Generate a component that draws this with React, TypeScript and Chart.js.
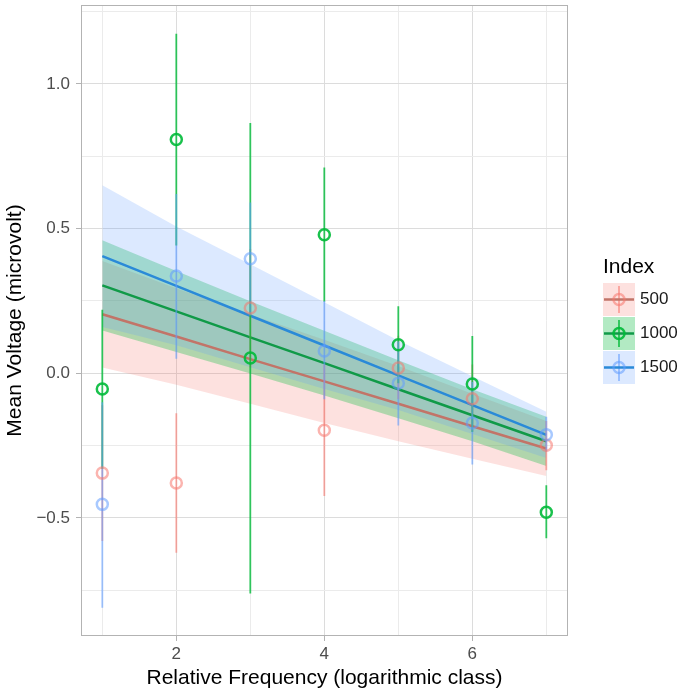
import React, { useEffect, useRef } from 'react';
import { Chart, registerables } from 'chart.js';

Chart.register(...registerables);

// ---- data ----
const xClasses = [1, 2, 3, 4, 5, 6, 7];
const seriesNames = ['500', '1000', '1500'];

const mean500 = [-0.345, -0.379, 0.226, -0.197, 0.018, -0.088, -0.249];
const low500 = [-0.58, -0.62, 0.02, -0.424, -0.09, -0.2, -0.335];
const high500 = [-0.11, -0.138, 0.43, 0.03, 0.13, 0.03, -0.165];

const mean1000 = [-0.054, 0.808, 0.053, 0.479, 0.099, -0.037, -0.48];
const low1000 = [-0.33, 0.442, -0.761, 0.247, -0.034, -0.203, -0.57];
const high1000 = [0.22, 1.174, 0.865, 0.711, 0.232, 0.129, -0.387];

const mean1500 = [-0.453, 0.336, 0.396, 0.077, -0.034, -0.172, -0.212];
const low1500 = [-0.81, 0.05, 0.2, -0.09, -0.18, -0.315, -0.27];
const high1500 = [-0.1, 0.62, 0.59, 0.25, 0.11, -0.03, -0.15];

const fit500 = [0.204, 0.127, 0.049, -0.028, -0.105, -0.183, -0.26];
const fit1000 = [0.304, 0.214, 0.124, 0.035, -0.055, -0.145, -0.235];
const fit1500 = [0.405, 0.302, 0.199, 0.096, -0.007, -0.11, -0.213];

const bandLo500 = [0.02, -0.04, -0.105, -0.172, -0.235, -0.295, -0.355];
const bandHi500 = [0.388, 0.294, 0.203, 0.116, 0.025, -0.071, -0.165];
const bandLo1000 = [0.148, 0.074, -0.001, -0.077, -0.155, -0.235, -0.32];
const bandHi1000 = [0.46, 0.354, 0.249, 0.147, 0.045, -0.055, -0.15];
const bandLo1500 = [0.16, 0.097, 0.021, -0.054, -0.127, -0.21, -0.293];
const bandHi1500 = [0.65, 0.507, 0.377, 0.246, 0.113, -0.01, -0.133];

const xGridValues = [1, 2, 3, 4, 5, 6, 7];
const xTickLabels = [2, 4, 6];
const yGridValues = [-0.75, -0.5, -0.25, 0, 0.25, 0.5, 0.75, 1, 1.25];
const yTickValues = [-0.5, 0, 0.5, 1];
const yTickLabels = ['\u22120.5', '0.0', '0.5', '1.0'];

const xTitle = 'Relative Frequency (logarithmic class)';
const yTitle = 'Mean Voltage (microvolt)';
const legendTitle = 'Index';

// ---- styles ----
const FONT = "'Liberation Sans', Arial, Helvetica, sans-serif";
const pointColors = ['rgba(248,118,109,0.55)', 'rgba(0,186,56,0.9)', 'rgba(97,156,255,0.55)'];
const barColors = ['rgba(248,118,109,0.6)', 'rgba(0,186,56,0.8)', 'rgba(97,156,255,0.6)'];
const lineColors = ['#C27468', '#109A48', '#2A8AD8'];
const bandColors = ['rgba(248,118,109,0.22)', 'rgba(0,186,56,0.3)', 'rgba(97,156,255,0.22)'];

const means = [mean500, mean1000, mean1500];
const lows = [low500, low1000, low1500];
const highs = [high500, high1000, high1500];
const fits = [fit500, fit1000, fit1500];
const bandLos = [bandLo500, bandLo1000, bandLo1500];
const bandHis = [bandHi500, bandHi1000, bandHi1500];

function buildDatasets() {
  const ds: any[] = [];
  for (let s = 0; s < 3; s++) {
    ds.push({
      data: xClasses.map((x, i) => ({ x, y: bandLos[s][i] })),
      borderWidth: 0,
      borderColor: 'transparent',
      pointRadius: 0,
      fill: false,
      order: 30 - s,
    });
    ds.push({
      data: xClasses.map((x, i) => ({ x, y: bandHis[s][i] })),
      borderWidth: 0,
      borderColor: 'transparent',
      backgroundColor: bandColors[s],
      pointRadius: 0,
      fill: '-1',
      order: 30 - s,
    });
  }
  for (let s = 0; s < 3; s++) {
    ds.push({
      data: xClasses.map((x, i) => ({ x, y: fits[s][i] })),
      borderColor: lineColors[s],
      borderWidth: 2.5,
      pointRadius: 0,
      fill: false,
      order: 20 - s,
    });
  }
  for (let s = 0; s < 3; s++) {
    const pts: any[] = [];
    xClasses.forEach((x, i) => {
      pts.push({ x, y: lows[s][i] });
      pts.push({ x, y: highs[s][i] });
      pts.push({ x, y: null });
    });
    ds.push({
      data: pts,
      borderColor: barColors[s],
      borderWidth: 1.8,
      pointRadius: 0,
      spanGaps: false,
      fill: false,
      order: 10 - s,
    });
  }
  for (let s = 0; s < 3; s++) {
    ds.push({
      data: xClasses.map((x, i) => ({ x, y: means[s][i] })),
      showLine: false,
      pointStyle: 'circle',
      pointRadius: 5.5,
      pointBorderWidth: 2.5,
      pointBackgroundColor: 'rgba(0,0,0,0)',
      pointBorderColor: pointColors[s],
      fill: false,
      order: 5 - s,
    });
  }
  return ds;
}

const decorPlugin = {
  id: 'decor',
  afterDraw(chart: any) {
    const { ctx, chartArea } = chart;
    ctx.save();
    // panel border
    ctx.strokeStyle = '#B3B3B3';
    ctx.lineWidth = 1;
    ctx.strokeRect(chartArea.left + 0.5, chartArea.top + 0.5, chartArea.right - chartArea.left - 1, chartArea.bottom - chartArea.top - 1);

    // axis titles
    ctx.fillStyle = '#000000';
    ctx.font = `21px ${FONT}`;
    ctx.textAlign = 'center';
    ctx.textBaseline = 'middle';
    ctx.fillText(xTitle, (chartArea.left + chartArea.right) / 2, 678);
    ctx.save();
    ctx.translate(15, (chartArea.top + chartArea.bottom) / 2);
    ctx.rotate(-Math.PI / 2);
    ctx.fillText(yTitle, 0, 0);
    ctx.restore();

    // legend
    const lx = 603;
    ctx.textAlign = 'left';
    ctx.textBaseline = 'alphabetic';
    ctx.font = `21px ${FONT}`;
    ctx.fillText(legendTitle, lx, 273);
    const kw = 32;
    const kh = 33;
    for (let s = 0; s < 3; s++) {
      const top = 283 + s * 34;
      const cx = lx + kw / 2;
      const cy = top + kh / 2;
      ctx.fillStyle = bandColors[s];
      ctx.fillRect(lx, top, kw, kh);
      ctx.strokeStyle = barColors[s];
      ctx.lineWidth = 1.8;
      ctx.beginPath();
      ctx.moveTo(cx, top + 3);
      ctx.lineTo(cx, top + kh - 3);
      ctx.stroke();
      ctx.strokeStyle = lineColors[s];
      ctx.lineWidth = 2.5;
      ctx.beginPath();
      ctx.moveTo(lx + 1, cy);
      ctx.lineTo(lx + kw - 1, cy);
      ctx.stroke();
      ctx.strokeStyle = pointColors[s];
      ctx.lineWidth = 2.5;
      ctx.beginPath();
      ctx.arc(cx, cy, 5.5, 0, Math.PI * 2);
      ctx.stroke();
      ctx.fillStyle = '#1A1A1A';
      ctx.font = `17px ${FONT}`;
      ctx.textBaseline = 'middle';
      ctx.fillText(seriesNames[s], 640, cy);
      ctx.textBaseline = 'alphabetic';
    }
    ctx.restore();
  },
};

export default function App() {
  const ref = useRef<HTMLCanvasElement | null>(null);

  useEffect(() => {
    if (!ref.current) return;
    const chart = new Chart(ref.current, {
      type: 'line',
      data: { datasets: buildDatasets() },
      options: {
        responsive: false,
        animation: false,
        devicePixelRatio: 1,
        layout: { autoPadding: false, padding: { left: 0, top: 5, right: 114, bottom: 0 } },
        plugins: {
          legend: { display: false },
          tooltip: { enabled: false },
          filler: { propagate: false },
        },
        scales: {
          x: {
            type: 'linear',
            min: 0.712,
            max: 7.293,
            afterFit: (scale: any) => {
              scale.height = 57;
              scale.paddingLeft = 0;
              scale.paddingRight = 0;
            },
            afterBuildTicks: (scale: any) => {
              scale.ticks = xGridValues.map((v) => ({ value: v }));
            },
            border: { display: false },
            grid: {
              color: (c: any) => (c.tick && xTickLabels.includes(c.tick.value) ? '#DCDCDC' : '#EBEBEB'),
              lineWidth: 1,
              tickLength: 5,
              tickWidth: 1,
              tickColor: (c: any) => (c.tick && xTickLabels.includes(c.tick.value) ? '#B3B3B3' : 'rgba(0,0,0,0)'),
            },
            ticks: {
              autoSkip: false,
              maxRotation: 0,
              padding: 3,
              color: '#4D4D4D',
              font: { family: FONT, size: 17 },
              callback: (v: any) => (xTickLabels.includes(Number(v)) ? String(v) : ''),
            },
          },
          y: {
            type: 'linear',
            min: -0.908,
            max: 1.273,
            afterFit: (scale: any) => {
              scale.width = 81;
              scale.paddingTop = 0;
              scale.paddingBottom = 0;
            },
            afterBuildTicks: (scale: any) => {
              scale.ticks = yGridValues.map((v) => ({ value: v }));
            },
            border: { display: false },
            grid: {
              color: (c: any) => (c.tick && yTickValues.includes(c.tick.value) ? '#DCDCDC' : '#EBEBEB'),
              lineWidth: 1,
              tickLength: 5,
              tickWidth: 1,
              tickColor: (c: any) => (c.tick && yTickValues.includes(c.tick.value) ? '#B3B3B3' : 'rgba(0,0,0,0)'),
            },
            ticks: {
              autoSkip: false,
              padding: 6,
              color: '#4D4D4D',
              font: { family: FONT, size: 17 },
              callback: (v: any) => {
                const idx = yTickValues.indexOf(Number(v));
                return idx >= 0 ? yTickLabels[idx] : '';
              },
            },
          },
        },
      } as any,
      plugins: [decorPlugin],
    });
    return () => chart.destroy();
  }, []);

  return (
    <div style={{ position: 'fixed', left: 0, top: 0, width: 682, height: 693, background: '#ffffff' }}>
      <canvas ref={ref} width={682} height={693} style={{ width: 682, height: 693, display: 'block' }} />
    </div>
  );
}
